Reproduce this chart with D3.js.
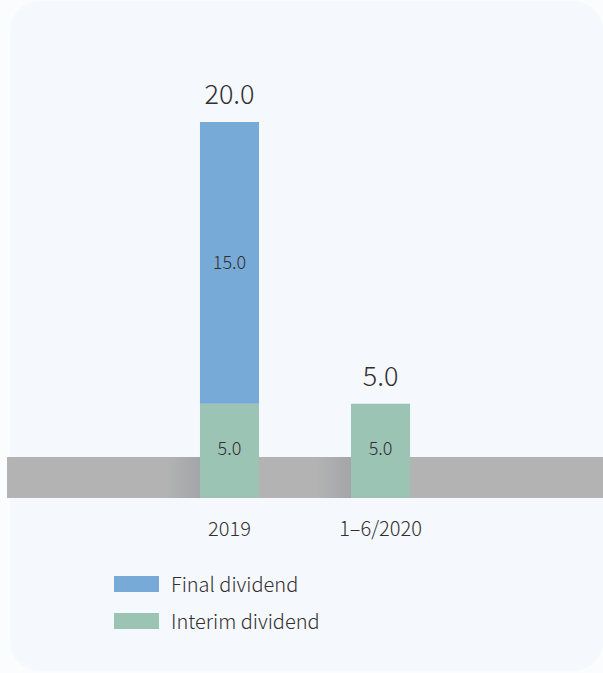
<!DOCTYPE html>
<html>
<head>
<meta charset="utf-8">
<script src="https://cdn.jsdelivr.net/npm/d3@7"></script>
<style>
  html, body { margin: 0; padding: 0; background: #fbfcfe; }
  svg { display: block; }
</style>
</head>
<body>
<div id="chart"></div>
<script>
// data
const categories = ["2019", "1\u20136/2020"];
const interimValues = [5.0, 5.0];
const finalValues = [15.0, 0];
const seriesNames = ["Final dividend", "Interim dividend"];

const W = 603, H = 673;
const colors = { final: "#78aad8", interim: "#9bc4b4", text: "#332e2f" };
const font = "'Noto Sans CJK SC', Roboto, sans-serif";

const svg = d3.select("#chart").append("svg")
    .attr("width", W)
    .attr("height", H);

// card background
svg.append("rect")
    .attr("x", 10).attr("y", 1)
    .attr("width", W - 10).attr("height", H - 3)
    .attr("rx", 30).attr("ry", 30)
    .style("fill", "#f5f9fd");

// scales
const x = d3.scaleBand()
    .domain(categories)
    .range([108, 502])
    .paddingInner(0.609)
    .paddingOuter(0.609);

const y = d3.scaleLinear()
    .domain([0, 20])
    .range([497.7, 122]);

// gradient for the shadow on the band
const defs = svg.append("defs");
const grad = defs.append("linearGradient").attr("id", "shade")
    .attr("x1", "0%").attr("x2", "100%");
grad.append("stop").attr("offset", "0%").style("stop-color", "#b3b3b3");
grad.append("stop").attr("offset", "100%").style("stop-color", "#a3a5a8");

// gray band
svg.append("rect")
    .attr("x", 7).attr("y", 457)
    .attr("width", W - 7).attr("height", 41)
    .style("fill", "#b3b3b3");

svg.selectAll(".shade")
    .data(categories)
    .enter().append("rect")
    .attr("class", "shade")
    .attr("x", d => x(d) - 34)
    .attr("y", 457)
    .attr("width", 34)
    .attr("height", 41)
    .style("fill", "url(#shade)");

// stacked data
const stackData = categories.map((c, i) => ({ cat: c, interim: interimValues[i], final: finalValues[i] }));
const stack = d3.stack().keys(["interim", "final"])(stackData);

const layers = svg.selectAll(".layer")
    .data(stack)
    .enter().append("g")
    .attr("class", "layer")
    .style("fill", d => colors[d.key]);

layers.selectAll("rect")
    .data(d => d.filter(s => s[1] > s[0]))
    .enter().append("rect")
    .attr("x", d => x(d.data.cat))
    .attr("y", d => y(d[1]))
    .attr("width", x.bandwidth())
    .attr("height", d => y(d[0]) - y(d[1]));

// inner labels (the bottom segment label sits on the gray band)
layers.selectAll("text")
    .data(d => d.filter(s => s[1] > s[0]))
    .enter().append("text")
    .attr("x", d => x(d.data.cat) + x.bandwidth() / 2)
    .attr("y", d => d[0] === 0 ? 449 : (y(d[0]) + y(d[1])) / 2)
    .attr("dy", "0.35em")
    .attr("text-anchor", "middle")
    .style("fill", colors.text)
    .style("font-family", font)
    .style("font-weight", 300)
    .style("font-size", "18px")
    .text(d => (d[1] - d[0]).toFixed(1));

// totals
svg.selectAll(".total")
    .data(stackData)
    .enter().append("text")
    .attr("class", "total")
    .attr("x", d => x(d.cat) + x.bandwidth() / 2)
    .attr("y", d => y(d.interim + d.final) - 18)
    .attr("text-anchor", "middle")
    .style("fill", colors.text)
    .style("font-family", font)
    .style("font-weight", 300)
    .style("font-size", "27px")
    .text(d => (d.interim + d.final).toFixed(1));

// category labels
svg.selectAll(".cat")
    .data(categories)
    .enter().append("text")
    .attr("class", "cat")
    .attr("x", d => x(d) + x.bandwidth() / 2)
    .attr("y", 536)
    .attr("text-anchor", "middle")
    .style("fill", colors.text)
    .style("font-family", font)
    .style("font-weight", 300)
    .style("font-size", "20px")
    .text(d => d);

// legend
const legend = svg.selectAll(".legend")
    .data(seriesNames)
    .enter().append("g")
    .attr("class", "legend")
    .attr("transform", (d, i) => `translate(114,${576 + i * 37})`);

legend.append("rect")
    .attr("width", 45).attr("height", 16)
    .style("fill", (d, i) => i === 0 ? colors.final : colors.interim);

legend.append("text")
    .attr("x", 57).attr("y", 16)
    .style("fill", colors.text)
    .style("font-family", font)
    .style("font-weight", 300)
    .style("font-size", "20px")
    .text(d => d);
</script>
</body>
</html>
